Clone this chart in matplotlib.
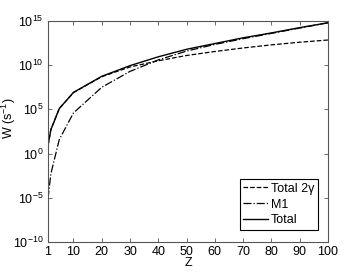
import numpy as np
import matplotlib
matplotlib.use('Agg')
import matplotlib.pyplot as plt
from matplotlib.ticker import NullLocator

plt.rcParams['font.family'] = ['Liberation Sans', 'DejaVu Sans']
plt.rcParams['mathtext.fontset'] = 'custom'
plt.rcParams['mathtext.rm'] = 'Liberation Sans'
plt.rcParams['mathtext.it'] = 'Liberation Sans:italic'

# values (log10 of the rate in s^-1)
Z = [1, 2, 5, 10, 20, 30, 40, 50, 60, 70, 80, 90, 100]
log_2gamma = [0.9, 2.7, 5.1, 6.9, 8.7, 9.8, 10.5, 11.1, 11.55, 11.95, 12.3, 12.6, 12.85]
log_m1 = [-5.1, -2.3, 1.6, 4.6, 7.5, 9.3, 10.6, 11.6, 12.35, 13.0, 13.6, 14.2, 14.8]
log_total = [0.9, 2.7, 5.1, 6.92, 8.74, 9.95, 10.95, 11.8, 12.45, 13.1, 13.65, 14.25, 14.8]

xticks = [1, 10, 20, 30, 40, 50, 60, 70, 80, 90, 100]
yticks = [1e-10, 1e-5, 1e0, 1e5, 1e10, 1e15]

W_2gamma = 10.0 ** np.array(log_2gamma)
W_m1 = 10.0 ** np.array(log_m1)
W_total = 10.0 ** np.array(log_total)

fig = plt.figure(figsize=(3.62, 2.72), dpi=100)
ax = fig.add_axes([48/362, 30/272, 280/362, 221/272])

ax.semilogy(Z, W_2gamma, 'k--', lw=0.9, label='Total 2γ')
ax.semilogy(Z, W_m1, 'k-.', lw=0.9, label='M1')
ax.semilogy(Z, W_total, 'k-', lw=1.0, label='Total')

ax.set_xlim(1, 100)
ax.set_ylim(1e-10, 1e15)
ax.set_xticks(xticks)
ax.set_yticks(yticks)
ax.yaxis.set_minor_locator(NullLocator())
ax.tick_params(direction='in', top=True, right=True, labelsize=9, length=3, width=0.6,
               colors='#555555', labelcolor='black', pad=3)
for s in ax.spines.values():
    s.set_color('#555555')
    s.set_linewidth(0.8)

ax.set_xlabel('Z', fontsize=9, labelpad=-1)
ax.set_ylabel('W (s$^{-1}$)', fontsize=9)
ax.yaxis.set_label_coords(-0.108, 0.56)

leg = ax.legend(loc='lower right', bbox_to_anchor=(0.964, 0.054), borderaxespad=0,
                fontsize=9, handlelength=2.0, handletextpad=0.2, labelspacing=0.3,
                borderpad=0.3, fancybox=False, framealpha=1, edgecolor='black')
leg.get_frame().set_linewidth(0.8)

plt.savefig('out.png', dpi=100)
